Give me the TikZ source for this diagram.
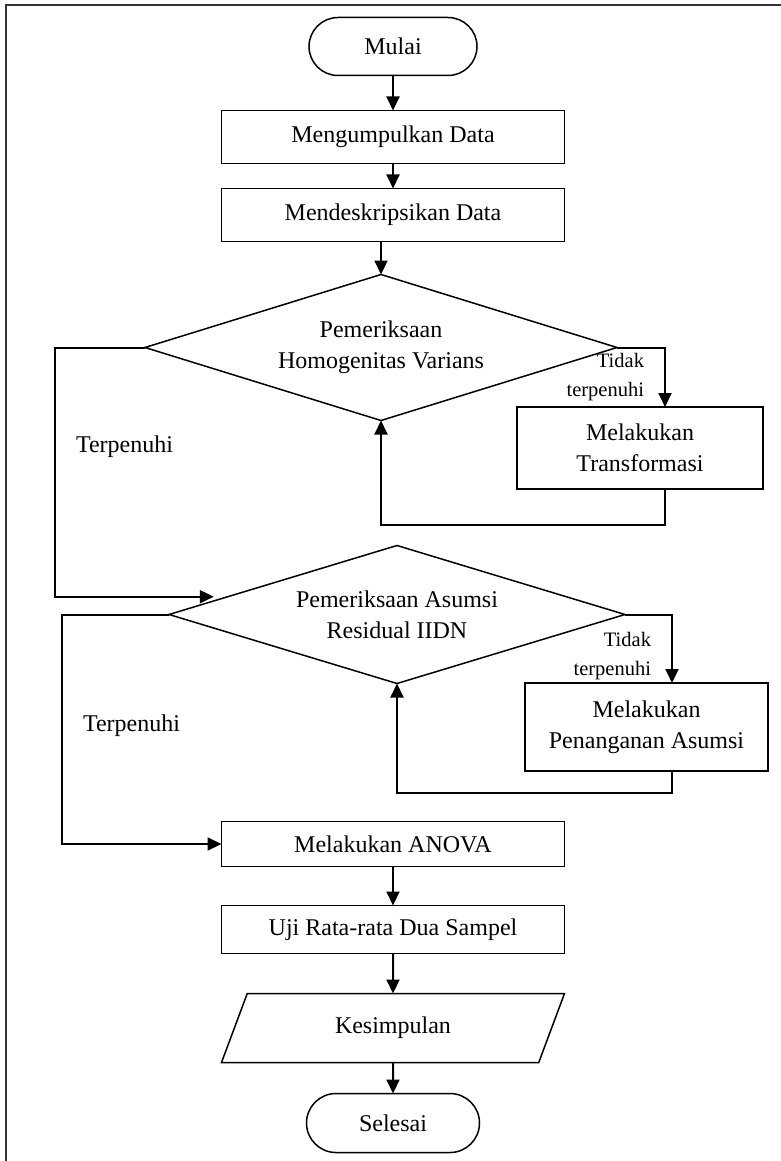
\documentclass[tikz,border=0pt]{standalone}
\usepackage{fontspec}
\setmainfont{Liberation Serif}
\usetikzlibrary{shapes.geometric, shapes.misc, arrows.meta, positioning}

\begin{document}
\begin{tikzpicture}[
    x=1pt, y=1pt,
    font=\fontsize{24pt}{31pt}\selectfont,
    base/.style={draw, line width=1.5pt, outer sep=0pt, inner sep=2pt, align=center},
    term/.style={base, rounded rectangle, minimum width=172pt, minimum height=58pt},
    proc/.style={base, rectangle, minimum width=343pt, minimum height=53pt},
    cond/.style={base, diamond, aspect=3.2},
    io/.style={base, trapezium, trapezium left angle=45, trapezium right angle=135, trapezium stretches body, minimum width=343pt, minimum height=69pt},
    arrow/.style={-{Triangle[length=14pt, width=13pt]}, line width=2pt},
    lbl/.style={font=\fontsize{20.5pt}{29pt}\selectfont, align=right, inner sep=0pt},
    yes/.style={anchor=west, inner sep=0pt, xshift=20pt},
]
\useasboundingbox (0,0) rectangle (781,-1161);

% frame of the figure
\draw[line width=2pt, black!80] (6,-1175) |- (795,-5.5);

\node[term] (start) at (393,-46.5) {Mulai};
\node[proc, below=35pt of start] (collect) {Mengumpulkan Data};
\node[proc, below=25pt of collect] (describe) {Mendeskripsikan Data};
\node[cond, minimum width=472pt, minimum height=146pt, below=33pt of describe, xshift=-12pt] (homog) {Pemeriksaan\\Homogenitas Varians};
\node[proc, minimum width=246pt, minimum height=82pt] (transf) at (640,-448) {Melakukan\\Transformasi};
\node[cond, minimum width=456pt, minimum height=138pt, below=125pt of homog, xshift=16pt] (iidn) {Pemeriksaan Asumsi\\Residual IIDN};
\node[proc, minimum width=243pt, minimum height=88pt] (handle) at (646.5,-727) {Melakukan\\Penanganan Asumsi};
\node[proc, minimum height=45pt, below=138pt of iidn, xshift=-4pt] (anova) {Melakukan ANOVA};
\node[proc, minimum height=48pt, below=39pt of anova] (meantest) {Uji Rata-rata Dua Sampel};
\node[io, below=40pt of meantest] (concl) {Kesimpulan};
\node[term, minimum width=177pt, minimum height=59pt, below=31pt of concl] (finish) {Selesai};

\draw[arrow] (start) -- (collect);
\draw[arrow] (collect) -- (describe);
\draw[arrow] (homog.north |- describe.south) -- (homog.north);

% homogeneity check
\draw[arrow, shorten >=14pt] (homog.west) -- ++(-90,0) |- node[yes, pos=0.2] {Terpenuhi} (iidn.174);
\draw[arrow] (homog.east) -| node[lbl, pos=0.75, left=20pt] {Tidak\\terpenuhi} ([xshift=25pt]transf.north);
\draw[arrow] ([xshift=25pt]transf.south) -- ++(0,-36) -| (homog.south);

% residual assumptions
\draw[arrow] (iidn.east) -| node[lbl, pos=0.8, left=20pt] {Tidak\\terpenuhi} ([xshift=25.5pt]handle.north);
\draw[arrow] ([xshift=25.5pt]handle.south) -- ++(0,-22) -| (iidn.south);
\draw[arrow] (iidn.west) -- ++(-107,0) |- node[yes, pos=0.242] {Terpenuhi} (anova.west);

\draw[arrow] (anova) -- (meantest);
\draw[arrow] (meantest) -- (concl);
\draw[arrow] (concl) -- (finish);

\end{tikzpicture}
\end{document}
